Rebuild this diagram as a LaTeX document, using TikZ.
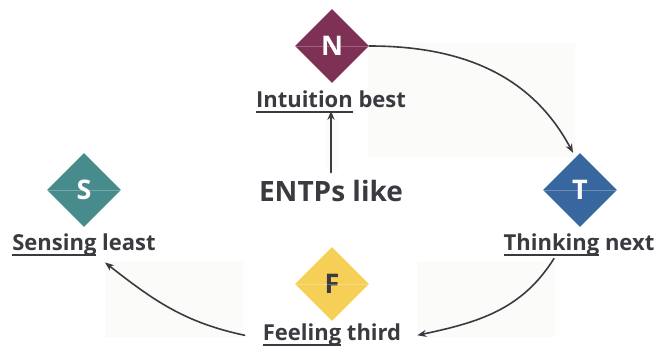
\documentclass[tikz,border=0pt]{standalone}
\usepackage{fontspec}
\setmainfont{Open Sans}
\usetikzlibrary{shapes.geometric,arrows.meta}
\newsavebox{\undrbox}
\newcommand{\undr}[1]{\sbox{\undrbox}{#1}\rlap{\rule[-4.6pt]{\wd\undrbox}{2pt}}\usebox{\undrbox}}
\definecolor{ink}{HTML}{3A3A40}
\definecolor{pale}{HTML}{FBFBF9}
\definecolor{nred}{HTML}{7E3055}
\definecolor{steal}{HTML}{478B8C}
\definecolor{tblue}{HTML}{38679F}
\definecolor{fgold}{HTML}{F6CF57}
\begin{document}
\begin{tikzpicture}[x=1pt,y=1pt,>={Stealth[length=9pt,width=7pt]},line join=round,line cap=round,
	dia/.style={diamond,minimum width=74pt,minimum height=74pt,inner sep=0pt,font=\fontsize{27}{28}\selectfont\bfseries},
	lab/.style={font=\fontsize{22}{24}\selectfont\bfseries,text=ink,inner sep=0pt,anchor=base},
	arr/.style={->,draw=ink,line width=1.6pt}]
	\useasboundingbox (0,0) rectangle (659,348);
	% faint panels behind the arrows
	\fill[pale] (368,305) rectangle (575,191) (105,86) rectangle (243,11) (417,86) rectangle (555,11) (326,235) rectangle (338,178);
	\node[dia,fill=nred,text=white] (N) at (332,302) {N};
	\node[dia,fill=steal,text=white] (S) at (84,158) {S};
	\node[dia,fill=tblue,text=white] (T) at (580,158) {T};
	\node[dia,fill=fgold,text=ink] (F) at (332,64) {F};
	\foreach \d in {N,S,T,F}
		\draw[white,opacity=.25,line width=.5pt] (\d.west)--(\d.east);
	\node[lab] (Nl) at (331,240) {\undr{Intuition} best};
	\node[lab] (Sl) at (84,97) {\undr{Sensing} least};
	\node[lab] (Tl) at (579,97) {\undr{Thinking} next};
	\node[lab] (Fl) at (332,7) {\undr{Feeling} third};
	\node[lab,font=\fontsize{28}{30}\selectfont\bfseries] (E) at (331,146) {ENTPs like};
	\draw[arr] ([yshift=8pt]E.north) -- ([yshift=2pt]Nl.south);
	\draw[arr] (N.east) to[out=0,in=118] ([xshift=-7pt]T.north);
	\draw[arr] ([xshift=-25pt,yshift=-2pt]Tl.south) to[out=238,in=12] ([xshift=16pt]Fl.east);
	\draw[arr] ([xshift=-18pt]Fl.west) to[out=168,in=-38] ([xshift=21pt,yshift=-6pt]Sl.south);
\end{tikzpicture}
\end{document}
